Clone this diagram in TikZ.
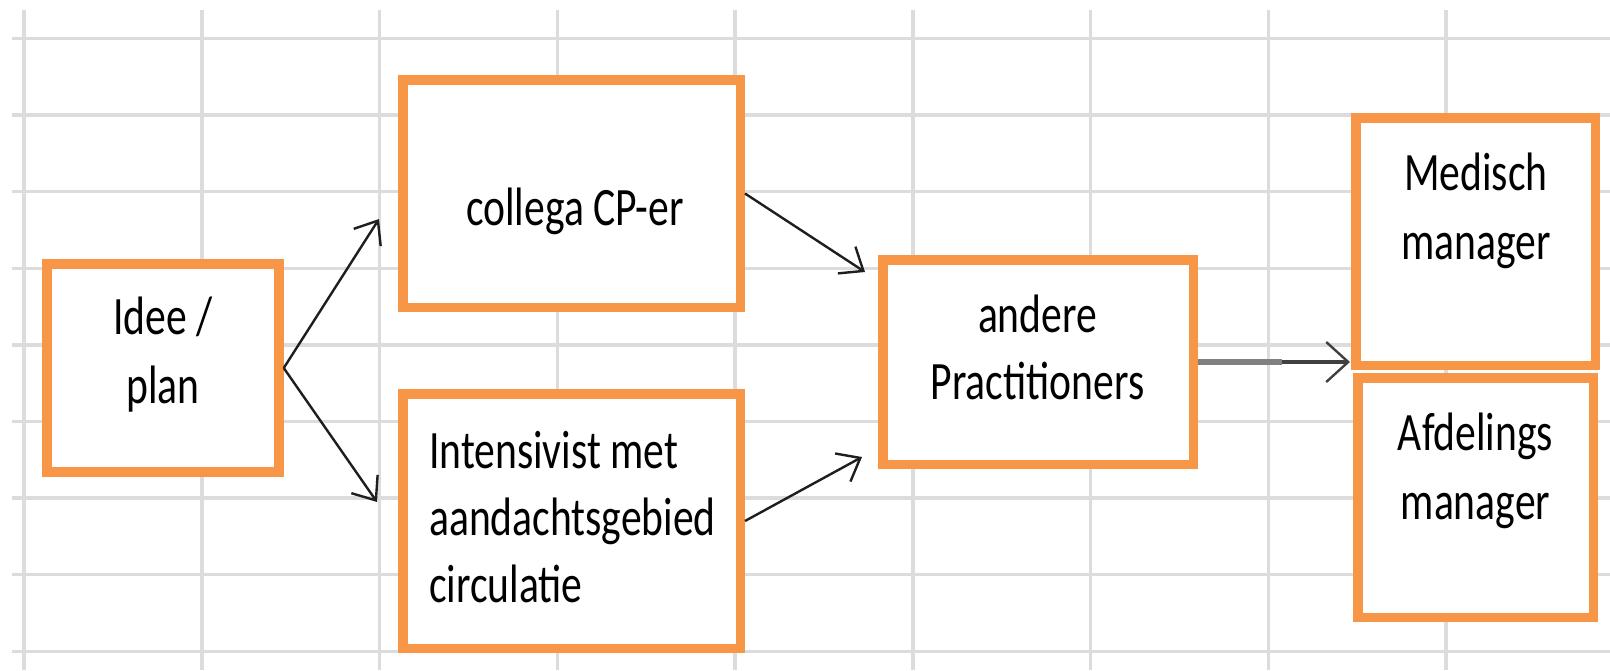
\documentclass[tikz,border=0pt]{standalone}
\usepackage{fontspec}
\usepackage{graphicx}
\setmainfont{Carlito}
\usetikzlibrary{arrows.meta}
\definecolor{boxorange}{HTML}{F79646}
\definecolor{gridgray}{HTML}{DCDCDE}
\definecolor{arrowink}{HTML}{1E1E1E}
\newcommand\vstr[1]{\scalebox{1}[1.3]{#1}}
\begin{document}
\begin{tikzpicture}[x=1pt,y=-1pt,
  gridline/.style={draw=gridgray,line width=3.5pt},
  box/.style={draw=boxorange,fill=white,line width=9.5pt,rectangle,inner sep=0pt},
  txt/.style={anchor=base,inner sep=0pt,text=black,font=\fontsize{41.6pt}{50pt}\selectfont},
  txtl/.style={txt,anchor=base west},
  arr/.style={draw=arrowink,line width=2.4pt,-{Straight Barb[length=20pt,width=32pt]}}]
\useasboundingbox[fill=white] (0,0) rectangle (1610,670);
% spreadsheet grid
\foreach \k in {0,...,8}{
  \draw[gridline] (12,{38.5+76.6*\k}) -- (1610,{38.5+76.6*\k});
  \draw[gridline] ({24+177.75*\k},10) -- ({24+177.75*\k},670);
}
% boxes
\node[box,minimum width=232pt,minimum height=208pt] (idee) at (163,368) {};
\node[box,minimum width=337.5pt,minimum height=227.5pt] (collega) at (571.5,193.5) {};
\node[box,minimum width=337.5pt,minimum height=254.5pt] (intens) at (571.5,521) {};
\node[box,minimum width=310.5pt,minimum height=204.5pt] (andere) at (1038,362) {};
\node[box,minimum width=239.5pt,minimum height=247.5pt] (medisch) at (1475.5,241.5) {};
\node[box,minimum width=235.5pt,minimum height=239.5pt] (afdel) at (1475.5,497.5) {};
% texts
\node[txt] (t1a) at (163,334) {\vstr{Idee /}};
\node[txt] (t1b) at (163,403) {\vstr{plan}};
\node[txt] (t2a) at (575,225) {\vstr{collega CP-er}};
\node[txtl] (t3a) at (429,468) {\vstr{Intensivist met}};
\node[txtl] (t3b) at (429,535) {\vstr{aandachtsgebied}};
\node[txtl] (t3c) at (429,602) {\vstr{circulatie}};
\node[txt] (t4a) at (1037.5,332) {\vstr{andere}};
\node[txt] (t4b) at (1037.5,399) {\vstr{Practitioners}};
\node[txt] (t5a) at (1476,190) {\vstr{Medisch}};
\node[txt] (t5b) at (1476,259) {\vstr{manager}};
\node[txt] (t6a) at (1475.5,450) {\vstr{Afdelings}};
\node[txt] (t6b) at (1475.5,519) {\vstr{manager}};
% arrow ends
\coordinate (c1) at (379,219);
\coordinate (c2) at (377,502);
\coordinate (c3) at (865,272);
\coordinate (c4) at (862,457);
\coordinate (g1) at (1282,362);
\coordinate (c5) at (1350,362);
% connectors
\draw[arr] (idee.east) -- (c1);
\draw[arr] (idee.east) -- (c2);
\draw[arr] (collega.east) -- (c3);
\draw[arr] (intens.east) -- (c4);
\draw[draw=gray,line width=6pt] (andere.east) -- (g1);
\draw[draw=black!75,line width=3.5pt,-{Straight Barb[length=22pt,width=40pt,line width=2.4pt]}] (g1) -- (c5);
\end{tikzpicture}
\end{document}
